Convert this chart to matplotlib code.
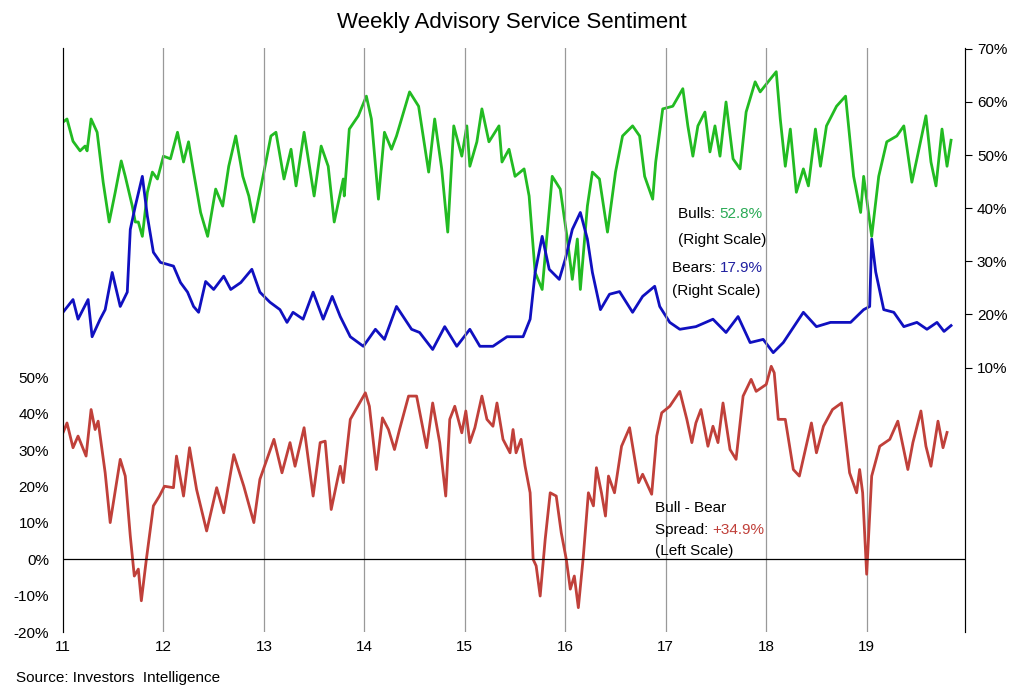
import numpy as np
import matplotlib.pyplot as plt

plt.rcParams['font.family'] = ['Liberation Sans', 'DejaVu Sans']

# bulls % (right scale)
bull_yr = [11.00, 11.04, 11.10, 11.17, 11.22, 11.24, 11.28, 11.34, 11.40, 11.46, 11.52, 11.58, 11.62, 11.69,
           11.72, 11.75, 11.79, 11.84, 11.89, 11.94, 12.00, 12.07, 12.14, 12.20, 12.25, 12.30, 12.37, 12.44,
           12.52, 12.59, 12.65, 12.72, 12.79, 12.85, 12.90, 13.00, 13.07, 13.12, 13.20, 13.27, 13.32, 13.40,
           13.50, 13.57, 13.64, 13.70, 13.79, 13.80, 13.85, 13.94, 14.02, 14.07, 14.14, 14.20, 14.27, 14.32,
           14.45, 14.54, 14.64, 14.70, 14.77, 14.83, 14.89, 14.97, 15.02, 15.05, 15.12, 15.17, 15.24, 15.34,
           15.37, 15.44, 15.50, 15.59, 15.64, 15.70, 15.77, 15.87, 15.95, 16.02, 16.07, 16.12, 16.15, 16.22,
           16.27, 16.34, 16.42, 16.50, 16.57, 16.67, 16.74, 16.79, 16.87, 16.90, 16.97, 17.07, 17.17, 17.22,
           17.27, 17.32, 17.39, 17.44, 17.49, 17.54, 17.60, 17.67, 17.74, 17.80, 17.89, 17.94, 18.04, 18.10,
           18.14, 18.19, 18.24, 18.30, 18.37, 18.42, 18.49, 18.54, 18.60, 18.70, 18.79, 18.87, 18.94, 18.97,
           19.05, 19.12, 19.20, 19.30, 19.37, 19.45, 19.50, 19.59, 19.64, 19.69, 19.75, 19.80, 19.84]
bulls = [56.2, 56.8, 52.6, 50.8, 51.7, 50.8, 56.8, 54.3, 44.9, 37.4, 43.0, 48.9, 46.0, 40.4,
         37.4, 37.4, 34.7, 43.0, 46.8, 45.5, 49.8, 49.3, 54.3, 48.7, 52.5, 46.8, 39.2, 34.7,
         43.6, 40.4, 47.9, 53.6, 46.0, 42.3, 37.4, 46.8, 53.6, 54.3, 45.5, 51.1, 44.2, 54.3,
         42.3, 51.7, 47.9, 37.4, 45.5, 42.3, 54.9, 57.4, 61.1, 56.8, 41.7, 54.3, 51.1, 53.6,
         61.9, 59.2, 46.8, 56.8, 47.4, 35.5, 55.5, 49.8, 55.5, 47.9, 52.5, 58.7, 52.5, 55.5,
         48.7, 51.1, 46.0, 47.4, 42.3, 27.9, 24.7, 46.0, 43.6, 34.2, 26.6, 34.2, 24.7, 40.4,
         46.8, 45.5, 35.5, 46.8, 53.6, 55.5, 53.6, 46.0, 41.7, 48.7, 58.7, 59.2, 62.5, 55.5,
         49.8, 55.5, 58.1, 50.6, 55.5, 49.8, 60.0, 49.3, 47.4, 58.1, 63.8, 61.9, 64.3, 65.7,
         56.8, 47.9, 54.9, 43.0, 47.4, 44.2, 54.9, 47.9, 55.5, 59.2, 61.1, 46.0, 39.2, 46.0,
         34.7, 46.0, 52.5, 53.6, 55.5, 44.9, 49.3, 57.4, 48.7, 44.2, 54.9, 47.9, 52.8]

# bears % (right scale)
bear_yr = [11.00, 11.10, 11.15, 11.25, 11.29, 11.37, 11.42, 11.49, 11.57, 11.64, 11.67, 11.72, 11.79, 11.84,
           11.90, 11.97, 12.10, 12.17, 12.24, 12.30, 12.35, 12.42, 12.50, 12.60, 12.67, 12.77, 12.88, 12.96,
           13.06, 13.16, 13.23, 13.29, 13.39, 13.49, 13.59, 13.68, 13.76, 13.86, 13.99, 14.11, 14.20, 14.32,
           14.47, 14.55, 14.68, 14.80, 14.92, 15.05, 15.15, 15.28, 15.42, 15.58, 15.65, 15.70, 15.77, 15.84,
           15.94, 16.00, 16.07, 16.15, 16.22, 16.27, 16.35, 16.44, 16.54, 16.67, 16.77, 16.89, 16.94, 17.04,
           17.14, 17.30, 17.47, 17.60, 17.72, 17.84, 17.97, 18.07, 18.17, 18.37, 18.50, 18.64, 18.84, 18.97,
           19.03, 19.05, 19.09, 19.17, 19.27, 19.37, 19.50, 19.60, 19.70, 19.77, 19.84]
bears = [20.4, 22.8, 19.1, 22.8, 15.8, 19.1, 20.9, 27.9, 21.5, 24.2, 36.0, 40.4, 46.0, 38.5,
         31.7, 29.8, 29.1, 26.0, 24.2, 21.5, 20.4, 26.2, 24.7, 27.2, 24.7, 26.0, 28.5, 24.2,
         22.3, 20.9, 18.5, 20.4, 19.1, 24.2, 19.1, 23.4, 19.6, 15.8, 14.0, 17.2, 15.3, 21.5,
         17.2, 16.6, 13.4, 17.7, 14.0, 17.2, 14.0, 14.0, 15.8, 15.8, 19.1, 27.9, 34.7, 28.5,
         26.6, 30.4, 36.0, 39.2, 34.2, 27.9, 20.9, 23.8, 24.3, 20.4, 23.4, 25.3, 21.5, 18.5,
         17.2, 17.7, 19.1, 16.6, 19.6, 14.7, 15.3, 12.8, 14.7, 20.4, 17.7, 18.5, 18.5, 20.9,
         21.5, 34.2, 28.0, 20.9, 20.4, 17.7, 18.5, 17.2, 18.5, 16.8, 17.9]

# bull - bear spread % (left scale)
spread_yr = [11.00, 11.04, 11.10, 11.15, 11.23, 11.28, 11.32, 11.35, 11.42, 11.47, 11.57, 11.62, 11.67, 11.71,
             11.75, 11.78, 11.83, 11.90, 11.96, 12.01, 12.10, 12.13, 12.20, 12.26, 12.33, 12.43, 12.53, 12.60,
             12.70, 12.80, 12.90, 12.96, 13.10, 13.18, 13.26, 13.31, 13.40, 13.49, 13.56, 13.61, 13.67, 13.76,
             13.79, 13.86, 14.01, 14.05, 14.12, 14.18, 14.24, 14.30, 14.35, 14.44, 14.52, 14.62, 14.68, 14.75,
             14.81, 14.85, 14.90, 14.97, 15.01, 15.05, 15.10, 15.17, 15.22, 15.28, 15.32, 15.38, 15.45, 15.48,
             15.51, 15.56, 15.60, 15.65, 15.68, 15.71, 15.75, 15.80, 15.85, 15.91, 15.96, 16.01, 16.05, 16.09,
             16.13, 16.18, 16.23, 16.28, 16.31, 16.36, 16.40, 16.43, 16.49, 16.56, 16.64, 16.73, 16.77, 16.86,
             16.91, 16.96, 17.04, 17.14, 17.21, 17.26, 17.30, 17.35, 17.42, 17.47, 17.52, 17.57, 17.64, 17.70,
             17.77, 17.85, 17.90, 18.00, 18.05, 18.08, 18.12, 18.19, 18.27, 18.33, 18.45, 18.50, 18.57, 18.66,
             18.75, 18.83, 18.90, 18.93, 18.96, 19.00, 19.05, 19.13, 19.23, 19.31, 19.41, 19.46, 19.54, 19.59,
             19.64, 19.71, 19.76, 19.80]
spread = [34.8, 37.5, 30.7, 33.9, 28.4, 41.2, 35.7, 38.0, 23.8, 10.1, 27.5, 22.9, 6.4, -4.6,
          -2.7, -11.4, 0.0, 14.7, 17.4, 20.1, 19.7, 28.4, 17.4, 30.7, 19.2, 7.8, 19.7, 12.8,
          28.8, 20.1, 10.1, 22.0, 33.0, 23.8, 32.1, 25.6, 36.2, 17.4, 32.1, 32.5, 13.7, 25.6,
          21.1, 38.5, 45.8, 42.1, 24.7, 38.9, 35.7, 30.2, 35.7, 44.9, 44.9, 30.7, 43.0, 32.1,
          17.4, 38.5, 42.1, 34.8, 40.8, 32.1, 36.2, 44.9, 38.5, 36.6, 43.0, 33.0, 29.3, 35.7,
          29.3, 33.0, 25.6, 18.3, 0.0, -1.8, -10.1, 5.5, 18.3, 17.4, 7.3, 0.0, -8.2, -4.6,
          -13.3, 0.9, 18.3, 14.7, 25.2, 18.3, 11.9, 22.9, 18.3, 31.1, 36.2, 21.1, 23.4, 17.9,
          33.9, 40.3, 42.1, 46.2, 38.5, 32.1, 37.5, 41.2, 31.1, 36.6, 32.1, 43.0, 30.2, 27.5,
          44.9, 49.5, 46.2, 48.1, 53.1, 51.3, 38.5, 38.5, 24.7, 22.9, 37.5, 29.3, 36.6, 41.2,
          43.0, 23.8, 18.3, 24.7, 18.3, -4.1, 22.9, 31.1, 33.0, 38.0, 24.7, 32.1, 40.8, 31.1,
          25.6, 38.0, 30.7, 34.9]

years = [11, 12, 13, 14, 15, 16, 17, 18, 19]

fig = plt.figure(figsize=(10.24, 6.93), dpi=100)
ax = fig.add_axes([0.0615, 0.088, 0.881, 0.843])
ax2 = ax.twinx()

ax.plot(spread_yr, spread, color='#C0403A', lw=2)
ax2.plot(bull_yr, bulls, color='#22BB22', lw=2)
ax2.plot(bear_yr, bears, color='#1010C0', lw=2)

ax.set_xlim(11, 19.98)
ax.set_ylim(-20, 140.7)
ax2.set_ylim(-39.8, 70.2)
ax.set_xticks(years)
ax.set_xticklabels([str(y) for y in years], fontsize=11)
ax.set_yticks(range(-20, 51, 10))
ax.set_yticklabels(['%d%%' % v for v in range(-20, 51, 10)], fontsize=11)
ax2.set_yticks(range(10, 71, 10))
ax2.set_yticklabels(['%d%%' % v for v in range(10, 71, 10)], fontsize=11)
ax.tick_params(axis='x', length=0, pad=6)
ax.tick_params(axis='y', length=0, pad=10)
ax2.tick_params(axis='y', length=5, direction='out')
for y in years[1:]:
    ax.axvline(y, color='#999999', lw=0.9, zorder=0)
ax.axhline(0, color='black', lw=0.9)
for a in (ax, ax2):
    a.spines['top'].set_visible(False)
    a.spines['bottom'].set_visible(False)
ax2.spines['left'].set_color('#444444')
ax2.spines['right'].set_color('#444444')
ax.set_zorder(ax2.get_zorder() + 1)
ax.patch.set_visible(False)

fig.text(0.5, 0.968, 'Weekly Advisory Service Sentiment', ha='center', va='center', fontsize=16)
fig.text(16 / 1024, 1 - 678 / 693, 'Source: Investors  Intelligence', va='center', fontsize=11)

def label(x, y, parts):
    # parts: list of (text, colour); pixel coords from the reference
    t = None
    for s, c in parts:
        if t is None:
            t = fig.text(x / 1024, 1 - y / 693, s, color=c, fontsize=11, va='center')
        else:
            t = ax.annotate(s, xycoords=t, xy=(1, 0), va='bottom', color=c, fontsize=11)

label(678, 214, [('Bulls: ', 'black'), ('52.8%', '#2AAA55')])
label(678, 240, [('(Right Scale)', 'black')])
label(672, 268, [('Bears: ', 'black'), ('17.9%', '#2020A0')])
label(672, 291, [('(Right Scale)', 'black')])
label(655, 508, [('Bull - Bear', 'black')])
label(655, 530, [('Spread: ', 'black'), ('+34.9%', '#C0403A')])
label(655, 551, [('(Left Scale)', 'black')])

fig.savefig('out.png', dpi=100)
